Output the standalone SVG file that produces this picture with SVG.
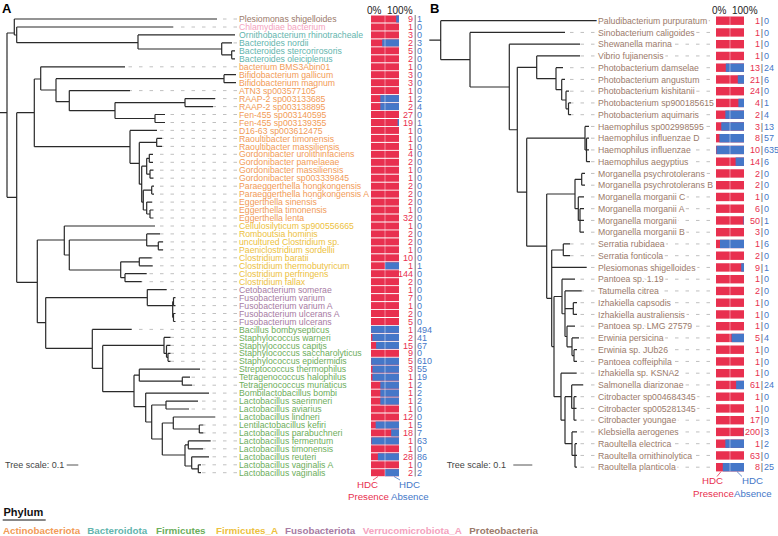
<svg xmlns="http://www.w3.org/2000/svg" xmlns:xlink="http://www.w3.org/1999/xlink" width="778" height="536" viewBox="0 0 778 536">
<style>
.t{stroke:#2a2a2a;stroke-width:1.2;fill:none}
.d{stroke:#b0b0b0;stroke-width:.8;stroke-dasharray:3.5 7;fill:none}
.l{font-family:"Liberation Sans",Arial,sans-serif;font-size:8.7px}
.h{stroke:#fff;stroke-width:4;paint-order:stroke fill;stroke-linejoin:round}
.pr{fill:#9B7A6A}.ve{fill:#F4A3BE}.bc{fill:#63B5AE}.ac{fill:#F29B57}.fa{fill:#EDC13E}.fu{fill:#A77BA3}.fi{fill:#6DAE5B}
.r{fill:#E8304F}.b{fill:#4577C8}
.n{font-family:"Liberation Sans",Arial,sans-serif;font-size:9px}
.nr{fill:#E8304F;text-anchor:end}.nb{fill:#4577C8}.ns{fill:#555;text-anchor:middle}
.k{font-family:"Liberation Sans",Arial,sans-serif;font-size:9.7px}
.p{font-family:"Liberation Sans",Arial,sans-serif;font-size:10px;fill:#222}
.lg{font-family:"Liberation Sans",Arial,sans-serif;font-size:9.8px;font-weight:bold}
.sc{font-family:"Liberation Sans",Arial,sans-serif;font-size:9px;fill:#444}
</style>
<defs>
<rect id="ra" class="r" x="371" y="-3.5" width="28" height="7"/>
<rect id="rb" class="r" x="716" y="-4.2" width="28" height="8.4"/>
</defs>
<rect width="778" height="536" fill="#fff"/>
<g id="connectors">
<path class="d" d="M237 19H217M237 27H173M237 42.9H232M237 66.8H125M237 90.6H130M237 98.6H215M237 106.6H213M237 114.5H165M237 122.5H165M237 130.4H157M237 138.4H162M237 146.4H162M237 154.3H153M237 162.3H153M237 170.2H153.5M237 178.2H153.5M237 186.2H154M237 194.1H154M237 202.1H152M237 210H153.5M237 218H153.5M237 226H155M237 233.9H160M237 241.9H163M237 249.8H163M237 257.8H151.7M237 265.8H152.7M237 273.7H146.7M237 281.7H141.7M237 289.6H166.7M237 297.6H175.5M237 305.6H175.5M237 313.5H175.5M237 321.5H175.5M237 329.4H131.7M237 337.4H170.5M237 345.4H170.5M237 353.3H170.5M237 361.3H170.5M237 369.2H200M237 377.2H190M237 385.2H192M237 393.1H209M237 401.1H198M237 409H189M237 417H215M237 425H203.3M237 432.9H203.3M237 440.9H210.7M237 448.8H203M237 456.8H209M237 464.8H201M237 472.7H201"/>
<path class="d" d="M710 20.7H597M710 32.45H565M710 44.2H580M710 55.95H580M710 67.7H563M710 79.45H565M710 91.2H569M710 102.95H571M710 114.7H571M710 126.45H589M710 138.2H589M710 149.95H589M710 161.7H590M710 173.45H585M710 185.2H585M710 196.95H584M710 208.7H584M710 220.45H584M710 232.2H584M710 243.95H570M710 255.7H570M710 267.45H586.7M710 279.2H575M710 290.95H581.7M710 302.7H577M710 314.45H577M710 326.2H575M710 337.95H579M710 349.7H577M710 361.45H577M710 373.2H576.7M710 384.95H583M710 396.7H576.5M710 408.45H576.5M710 420.2H576.5M710 431.95H577M710 443.7H577M710 455.45H577M710 467.2H577"/>
<path class="t" d="M0 112.7H7M7 33V197.3M7 33H14.3M14.3 19V35M14.3 19H217M14.3 35H16.7M16.7 27V42.7M16.7 27H173M16.7 42.7H138M138 34.9V49M138 34.9H235M138 49H221.7M221.7 42.9V54.8M221.7 42.9H232M221.7 54.8H231.7M231.7 50.8V58.8M231.7 50.8H235M231.7 58.8H235
M7 197.3H16.7M16.7 112.7V282.3M16.7 112.7H34.3M34.3 79V146.7M34.3 79H40.7M40.7 66.8V90M40.7 66.8H125M40.7 90H56M56 78.7V101.7M56 78.7H224M224 74.7V82.7M224 74.7H236M224 82.7H236M56 101.7H69.3M69.3 90.6V110.7M69.3 90.6H130M69.3 110.7H115M115 102.6V118.5M115 102.6H185M185 98.6V106.6M185 98.6H215M185 106.6H213M115 118.5H155M155 114.5V122.5M155 114.5H165M155 122.5H165
M34.3 146.7H130M130 130.4V163.3M130 130.4H157M130 163.3H139.3M139.3 142.4V184.2M139.3 142.4H156.7M156.7 138.4V146.4M156.7 138.4H162M156.7 146.4H162M139.3 184.2H141.7M141.7 166.2V202.2M141.7 166.2H146.7M146.7 158.3V174.2M146.7 158.3H149.3M149.3 154.3V162.3M149.3 154.3H153M149.3 162.3H153M146.7 174.2H150M150 170.2V178.2M150 170.2H153.5M150 178.2H153.5M141.7 202.2H143.3M143.3 190.2V210M143.3 190.2H151.7M151.7 186.2V194.1M151.7 186.2H154M151.7 194.1H154M143.3 210H146.7M146.7 202.1V214M146.7 202.1H152M146.7 214H150M150 210V218M150 210H153.5M150 218H153.5
M16.7 282.3H37.3M37.3 240V322.7M37.3 240H64.3M64.3 226V255M64.3 226H155M64.3 255H69.3M69.3 240V270M69.3 240H146.7M146.7 233.9V245.9M146.7 233.9H160M146.7 245.9H158.3M158.3 241.9V249.8M158.3 241.9H163M158.3 249.8H163M69.3 270H120.7M120.7 261.8V277.7M120.7 261.8H139.3M139.3 257.8V265.8M139.3 257.8H151.7M139.3 265.8H152.7M120.7 277.7H125M125 273.7V281.7M125 273.7H146.7M125 281.7H141.7
M37.3 322.7H45.7M45.7 297.6V348.3M45.7 297.6H147.3M147.3 289.6V305.6M147.3 289.6H166.7M147.3 305.6H172.7M172.7 301.6V317.5M172.7 301.6H173.5M173.5 297.6V305.6M173.5 297.6H175.5M173.5 305.6H175.5M172.7 317.5H173.5M173.5 313.5V321.5M173.5 313.5H175.5M173.5 321.5H175.5
M45.7 348.3H92.3M92.3 329.4V368.3M92.3 329.4H131.7M92.3 368.3H102.7M102.7 345.4V391.7M102.7 345.4H164M164 337.4V353.4M164 337.4H170.5M164 353.4H166.5M166.5 345.4V357.3M166.5 345.4H170.5M166.5 357.3H168M168 353.3V361.3M168 353.3H170.5M168 361.3H170.5
M102.7 391.7H134M134 375.2V406.7M134 375.2H139.3M139.3 369.2V381.2M139.3 369.2H200M139.3 381.2H182.3M182.3 377.2V385.2M182.3 377.2H190M182.3 385.2H192M134 406.7H145.7M145.7 393.1V422M145.7 393.1H209M145.7 422H151.7M151.7 405V439M151.7 405H166M166 401.1V409M166 401.1H198M166 409H189M151.7 439H162.3M162.3 423V455M162.3 423H173.3M173.3 417V429M173.3 417H215M173.3 429H199.3M199.3 425V432.9M199.3 425H203.3M199.3 432.9H203.3M162.3 455H185M185 444.9V466M185 444.9H188.3M188.3 440.9V448.8M188.3 440.9H210.7M188.3 448.8H203M185 466H191.7M191.7 456.8V468.8M191.7 456.8H209M191.7 468.8H198.3M198.3 464.8V472.7M198.3 464.8H201M198.3 472.7H201"/>
<path class="t" d="M429.3 40.2H440.7M440.7 20.7V59.7M440.7 20.7H597M440.7 59.7H470M470 32.45V87M470 32.45H565M470 87H509.3M509.3 44.2V129.75M509.3 44.2H580M509.3 129.75H517.3M517.3 67.3V192.2M517.3 67.3H536.7M517.3 192.2H526.7
M536.7 55.95V78.7M536.7 55.95H580M536.7 78.7H556M556 67.7V89.7M556 67.7H563M556 89.7H561.7M561.7 79.45V100M561.7 79.45H565M561.7 100H566M566 91.2V108.8M566 91.2H569M566 108.8H568.5M568.5 102.95V114.7M568.5 102.95H571M568.5 114.7H571
M526.7 138.2V246.15M526.7 138.2H585M526.7 246.15H546.7M585 126.45V150M585 126.45H589M585 150H586.5M586.5 138.2V161.7M586.5 138.2H589M586.5 149.95H589M586.5 161.7H590
M546.7 194V298.3M546.7 194H575M546.7 298.3H551.7M575 179.3V208.7M575 179.3H581.7M575 208.7H578.3M581.7 173.45V185.2M581.7 173.45H585M581.7 185.2H585M578.3 196.95V220.45M578.3 196.95H584M578.3 220.45H580M580 208.7V232.2M580 208.7H584M580 220.45H584M580 232.2H584
M551.7 250V346.6M551.7 250H563.3M551.7 267.45H586.7M551.7 346.6H554M563.3 243.95V255.7M563.3 243.95H570M563.3 255.7H570
M554 296.5V396.7M554 296.5H562M554 396.7H561M562 279.2V313.75M562 279.2H575M562 313.75H565M565 290.95V336.5M565 290.95H581.7M565 308.6H573.3M565 336.5H567M573.3 302.7V314.45M573.3 302.7H577M573.3 314.45H577M567 326.2V346.8M567 326.2H575M567 346.8H572M572 337.95V355.6M572 337.95H579M572 355.6H574M574 349.7V361.45M574 349.7H577M574 361.45H577
M561 373.2V420.2M561 373.2H576.7M561 420.2H565M565 396.7V443.7M565 396.7H571.7M565 443.7H572M571.7 384.95V408.45M571.7 384.95H583M571.7 408.45H574M574 396.7V420.2M574 396.7H576.5M574 408.45H576.5M574 420.2H576.5M572 431.95V455.45M572 431.95H577M572 455.45H575M575 443.7V467.2M575 443.7H577M575 455.45H577M575 467.2H577"/>
<path d="M415.2 15V476.5" stroke="#555" stroke-width=".8"/>
<path d="M373 480L378 476.5" stroke="#E8304F" stroke-width=".8"/>
<path d="M400 480L394 476.5" stroke="#4577C8" stroke-width=".8"/>
<path d="M717 476.5L721 471.6" stroke="#E8304F" stroke-width=".8"/>
<path d="M742 476.5L737 471.6" stroke="#4577C8" stroke-width=".8"/>
</g>
<g id="panelA">
<text x="2" y="12.7" font-family="Liberation Sans, Arial, sans-serif" font-size="13" font-weight="bold">A</text>
<text class="p" x="367" y="14">0%</text><text class="p" x="387" y="14">100%</text>
<g id="a1" transform="translate(0 19)"><text class="l pr" x="239" y="3.1">Plesiomonas shigelloides</text><use href="#ra"/><rect class="b" x="396.2" y="-3.5" width="2.8" height="7"/><text class="n nr" x="413" y="3.1">9</text><text class="n nb" x="417" y="3.1">1</text></g>
<g id="a2" transform="translate(0 27)"><text class="l ve" x="239" y="3.1">Chlamydiae bacterium</text><use href="#ra"/><text class="n nr" x="413" y="3.1">1</text><text class="n nb" x="417" y="3.1">0</text></g>
<g id="a3" transform="translate(0 34.9)"><text class="l bc" x="239" y="3.1">Ornithobacterium rhinotracheale</text><use href="#ra"/><text class="n nr" x="413" y="3.1">3</text><text class="n nb" x="417" y="3.1">0</text></g>
<g id="a4" transform="translate(0 42.9)"><text class="l bc" x="239" y="3.1">Bacteroides nordii</text><use href="#ra"/><rect class="b" x="382.2" y="-3.5" width="16.8" height="7"/><text class="n nr" x="413" y="3.1">2</text><text class="n nb" x="417" y="3.1">3</text></g>
<g id="a5" transform="translate(0 50.8)"><text class="l bc" x="239" y="3.1">Bacteroides stercorirosoris</text><use href="#ra"/><text class="n nr" x="413" y="3.1">5</text><text class="n nb" x="417" y="3.1">0</text></g>
<g id="a6" transform="translate(0 58.8)"><text class="l bc" x="239" y="3.1">Bacteroides oleiciplenus</text><use href="#ra"/><text class="n nr" x="413" y="3.1">2</text><text class="n nb" x="417" y="3.1">0</text></g>
<g id="a7" transform="translate(0 66.8)"><text class="l ac" x="239" y="3.1">bacterium BMS3Abin01</text><use href="#ra"/><text class="n nr" x="413" y="3.1">1</text><text class="n nb" x="417" y="3.1">0</text></g>
<g id="a8" transform="translate(0 74.7)"><text class="l ac" x="239" y="3.1">Bifidobacterium gallicum</text><use href="#ra"/><text class="n nr" x="413" y="3.1">3</text><text class="n nb" x="417" y="3.1">0</text></g>
<g id="a9" transform="translate(0 82.7)"><text class="l ac" x="239" y="3.1">Bifidobacterium magnum</text><use href="#ra"/><text class="n nr" x="413" y="3.1">3</text><text class="n nb" x="417" y="3.1">0</text></g>
<g id="a10" transform="translate(0 90.6)"><text class="l ac" x="239" y="3.1">ATN3 sp003577105</text><use href="#ra"/><text class="n nr" x="413" y="3.1">1</text><text class="n nb" x="417" y="3.1">0</text></g>
<g id="a11" transform="translate(0 98.6)"><text class="l ac" x="239" y="3.1">RAAP-2 sp003133685</text><use href="#ra"/><rect class="b" x="380.33" y="-3.5" width="18.67" height="7"/><text class="n nr" x="413" y="3.1">1</text><text class="n nb" x="417" y="3.1">2</text></g>
<g id="a12" transform="translate(0 106.6)"><text class="l ac" x="239" y="3.1">RAAP-2 sp003138895</text><use href="#ra"/><rect class="b" x="380.33" y="-3.5" width="18.67" height="7"/><text class="n nr" x="413" y="3.1">2</text><text class="n nb" x="417" y="3.1">4</text></g>
<g id="a13" transform="translate(0 114.5)"><text class="l ac" x="239" y="3.1">Fen-455 sp003140595</text><use href="#ra"/><text class="n nr" x="413" y="3.1">27</text><text class="n nb" x="417" y="3.1">0</text></g>
<g id="a14" transform="translate(0 122.5)"><text class="l ac" x="239" y="3.1">Fen-455 sp003139355</text><use href="#ra"/><rect class="b" x="397.6" y="-3.5" width="1.4" height="7"/><text class="n nr" x="413" y="3.1">19</text><text class="n nb" x="417" y="3.1">1</text></g>
<g id="a15" transform="translate(0 130.4)"><text class="l ac" x="239" y="3.1">D16-63 sp003612475</text><use href="#ra"/><text class="n nr" x="413" y="3.1">1</text><text class="n nb" x="417" y="3.1">0</text></g>
<g id="a16" transform="translate(0 138.4)"><text class="l ac" x="239" y="3.1">Raoultibacter timonensis</text><use href="#ra"/><text class="n nr" x="413" y="3.1">1</text><text class="n nb" x="417" y="3.1">0</text></g>
<g id="a17" transform="translate(0 146.4)"><text class="l ac" x="239" y="3.1">Raoultibacter massiliensis</text><use href="#ra"/><text class="n nr" x="413" y="3.1">1</text><text class="n nb" x="417" y="3.1">0</text></g>
<g id="a18" transform="translate(0 154.3)"><text class="l ac" x="239" y="3.1">Gordonibacter urolithinfaciens</text><use href="#ra"/><text class="n nr" x="413" y="3.1">4</text><text class="n nb" x="417" y="3.1">0</text></g>
<g id="a19" transform="translate(0 162.3)"><text class="l ac" x="239" y="3.1">Gordonibacter pamelaeae</text><use href="#ra"/><text class="n nr" x="413" y="3.1">2</text><text class="n nb" x="417" y="3.1">0</text></g>
<g id="a20" transform="translate(0 170.2)"><text class="l ac" x="239" y="3.1">Gordonibacter massiliensis</text><use href="#ra"/><text class="n nr" x="413" y="3.1">1</text><text class="n nb" x="417" y="3.1">0</text></g>
<g id="a21" transform="translate(0 178.2)"><text class="l ac" x="239" y="3.1">Gordonibacter sp003339845</text><use href="#ra"/><text class="n nr" x="413" y="3.1">1</text><text class="n nb" x="417" y="3.1">0</text></g>
<g id="a22" transform="translate(0 186.2)"><text class="l ac" x="239" y="3.1">Paraeggerthella hongkongensis</text><use href="#ra"/><text class="n nr" x="413" y="3.1">2</text><text class="n nb" x="417" y="3.1">0</text></g>
<g id="a23" transform="translate(0 194.1)"><text class="l ac" x="239" y="3.1">Paraeggerthella hongkongensis A</text><use href="#ra"/><text class="n nr" x="413" y="3.1">2</text><text class="n nb" x="417" y="3.1">0</text></g>
<g id="a24" transform="translate(0 202.1)"><text class="l ac" x="239" y="3.1">Eggerthella sinensis</text><use href="#ra"/><text class="n nr" x="413" y="3.1">2</text><text class="n nb" x="417" y="3.1">0</text></g>
<g id="a25" transform="translate(0 210)"><text class="l ac" x="239" y="3.1">Eggerthella timonensis</text><use href="#ra"/><text class="n nr" x="413" y="3.1">1</text><text class="n nb" x="417" y="3.1">0</text></g>
<g id="a26" transform="translate(0 218)"><text class="l ac" x="239" y="3.1">Eggerthella lenta</text><use href="#ra"/><text class="n nr" x="413" y="3.1">32</text><text class="n nb" x="417" y="3.1">0</text></g>
<g id="a27" transform="translate(0 226)"><text class="l fa" x="239" y="3.1">Cellulosilyticum sp900556665</text><use href="#ra"/><text class="n nr" x="413" y="3.1">1</text><text class="n nb" x="417" y="3.1">0</text></g>
<g id="a28" transform="translate(0 233.9)"><text class="l fa" x="239" y="3.1">Romboutsia hominis</text><use href="#ra"/><text class="n nr" x="413" y="3.1">2</text><text class="n nb" x="417" y="3.1">0</text></g>
<g id="a29" transform="translate(0 241.9)"><text class="l fa" x="239" y="3.1">uncultured Clostridium sp.</text><use href="#ra"/><text class="n nr" x="413" y="3.1">2</text><text class="n nb" x="417" y="3.1">0</text></g>
<g id="a30" transform="translate(0 249.8)"><text class="l fa" x="239" y="3.1">Paeniclostridium sordellii</text><use href="#ra"/><text class="n nr" x="413" y="3.1">1</text><text class="n nb" x="417" y="3.1">0</text></g>
<g id="a31" transform="translate(0 257.8)"><text class="l fa" x="239" y="3.1">Clostridium baratii</text><use href="#ra"/><text class="n nr" x="413" y="3.1">10</text><text class="n nb" x="417" y="3.1">0</text></g>
<g id="a32" transform="translate(0 265.8)"><text class="l fa" x="239" y="3.1">Clostridium thermobutyricum</text><use href="#ra"/><rect class="b" x="385" y="-3.5" width="14" height="7"/><text class="n nr" x="413" y="3.1">1</text><text class="n nb" x="417" y="3.1">1</text></g>
<g id="a33" transform="translate(0 273.7)"><text class="l fa" x="239" y="3.1">Clostridium perfringens</text><use href="#ra"/><text class="n nr" x="413" y="3.1">144</text><text class="n nb" x="417" y="3.1">0</text></g>
<g id="a34" transform="translate(0 281.7)"><text class="l fa" x="239" y="3.1">Clostridium fallax</text><use href="#ra"/><text class="n nr" x="413" y="3.1">2</text><text class="n nb" x="417" y="3.1">0</text></g>
<g id="a35" transform="translate(0 289.6)"><text class="l fu" x="239" y="3.1">Cetobacterium somerae</text><use href="#ra"/><text class="n nr" x="413" y="3.1">1</text><text class="n nb" x="417" y="3.1">0</text></g>
<g id="a36" transform="translate(0 297.6)"><text class="l fu" x="239" y="3.1">Fusobacterium varium</text><use href="#ra"/><text class="n nr" x="413" y="3.1">7</text><text class="n nb" x="417" y="3.1">0</text></g>
<g id="a37" transform="translate(0 305.6)"><text class="l fu" x="239" y="3.1">Fusobacterium varium A</text><use href="#ra"/><text class="n nr" x="413" y="3.1">1</text><text class="n nb" x="417" y="3.1">0</text></g>
<g id="a38" transform="translate(0 313.5)"><text class="l fu" x="239" y="3.1">Fusobacterium ulcerans A</text><use href="#ra"/><text class="n nr" x="413" y="3.1">2</text><text class="n nb" x="417" y="3.1">0</text></g>
<g id="a39" transform="translate(0 321.5)"><text class="l fu" x="239" y="3.1">Fusobacterium ulcerans</text><use href="#ra"/><text class="n nr" x="413" y="3.1">5</text><text class="n nb" x="417" y="3.1">0</text></g>
<g id="a40" transform="translate(0 329.4)"><text class="l fi" x="239" y="3.1">Bacillus bombysepticus</text><use href="#ra"/><rect class="b" x="371.1" y="-3.5" width="27.9" height="7"/><text class="n nr" x="413" y="3.1">1</text><text class="n nb" x="417" y="3.1">494</text></g>
<g id="a41" transform="translate(0 337.4)"><text class="l fi" x="239" y="3.1">Staphylococcus warneri</text><use href="#ra"/><rect class="b" x="372.3" y="-3.5" width="26.7" height="7"/><text class="n nr" x="413" y="3.1">2</text><text class="n nb" x="417" y="3.1">41</text></g>
<g id="a42" transform="translate(0 345.4)"><text class="l fi" x="239" y="3.1">Staphylococcus capitis</text><use href="#ra"/><rect class="b" x="376.1" y="-3.5" width="22.9" height="7"/><text class="n nr" x="413" y="3.1">15</text><text class="n nb" x="417" y="3.1">67</text></g>
<g id="a43" transform="translate(0 353.3)"><text class="l fi" x="239" y="3.1">Staphylococcus saccharolyticus</text><use href="#ra"/><text class="n nr" x="413" y="3.1">9</text><text class="n nb" x="417" y="3.1">0</text></g>
<g id="a44" transform="translate(0 361.3)"><text class="l fi" x="239" y="3.1">Staphylococcus epidermidis</text><use href="#ra"/><rect class="b" x="371.2" y="-3.5" width="27.8" height="7"/><text class="n nr" x="413" y="3.1">5</text><text class="n nb" x="417" y="3.1">610</text></g>
<g id="a45" transform="translate(0 369.2)"><text class="l fi" x="239" y="3.1">Streptococcus thermophilus</text><use href="#ra"/><rect class="b" x="372.45" y="-3.5" width="26.55" height="7"/><text class="n nr" x="413" y="3.1">3</text><text class="n nb" x="417" y="3.1">55</text></g>
<g id="a46" transform="translate(0 377.2)"><text class="l fi" x="239" y="3.1">Tetragenococcus halophilus</text><use href="#ra"/><rect class="b" x="372.4" y="-3.5" width="26.6" height="7"/><text class="n nr" x="413" y="3.1">1</text><text class="n nb" x="417" y="3.1">19</text></g>
<g id="a47" transform="translate(0 385.2)"><text class="l fi" x="239" y="3.1">Tetragenococcus muriaticus</text><use href="#ra"/><rect class="b" x="380.33" y="-3.5" width="18.67" height="7"/><text class="n nr" x="413" y="3.1">1</text><text class="n nb" x="417" y="3.1">2</text></g>
<g id="a48" transform="translate(0 393.1)"><text class="l fi" x="239" y="3.1">Bombilactobacillus bombi</text><use href="#ra"/><rect class="b" x="380.33" y="-3.5" width="18.67" height="7"/><text class="n nr" x="413" y="3.1">1</text><text class="n nb" x="417" y="3.1">2</text></g>
<g id="a49" transform="translate(0 401.1)"><text class="l fi" x="239" y="3.1">Lactobacillus saerimneri</text><use href="#ra"/><rect class="b" x="380.33" y="-3.5" width="18.67" height="7"/><text class="n nr" x="413" y="3.1">1</text><text class="n nb" x="417" y="3.1">2</text></g>
<g id="a50" transform="translate(0 409)"><text class="l fi" x="239" y="3.1">Lactobacillus aviarius</text><use href="#ra"/><text class="n nr" x="413" y="3.1">1</text><text class="n nb" x="417" y="3.1">0</text></g>
<g id="a51" transform="translate(0 417)"><text class="l fi" x="239" y="3.1">Lactobacillus lindneri</text><use href="#ra"/><text class="n nr" x="413" y="3.1">12</text><text class="n nb" x="417" y="3.1">0</text></g>
<g id="a52" transform="translate(0 425)"><text class="l fi" x="239" y="3.1">Lentilactobacillus kefiri</text><use href="#ra"/><rect class="b" x="375.67" y="-3.5" width="23.33" height="7"/><text class="n nr" x="413" y="3.1">1</text><text class="n nb" x="417" y="3.1">5</text></g>
<g id="a53" transform="translate(0 432.9)"><text class="l fi" x="239" y="3.1">Lactobacillus parabuchneri</text><use href="#ra"/><rect class="b" x="391.16" y="-3.5" width="7.84" height="7"/><text class="n nr" x="413" y="3.1">18</text><text class="n nb" x="417" y="3.1">7</text></g>
<g id="a54" transform="translate(0 440.9)"><text class="l fi" x="239" y="3.1">Lactobacillus fermentum</text><use href="#ra"/><rect class="b" x="371.44" y="-3.5" width="27.56" height="7"/><text class="n nr" x="413" y="3.1">1</text><text class="n nb" x="417" y="3.1">63</text></g>
<g id="a55" transform="translate(0 448.8)"><text class="l fi" x="239" y="3.1">Lactobacillus timonensis</text><use href="#ra"/><text class="n nr" x="413" y="3.1">1</text><text class="n nb" x="417" y="3.1">0</text></g>
<g id="a56" transform="translate(0 456.8)"><text class="l fi" x="239" y="3.1">Lactobacillus reuteri</text><use href="#ra"/><rect class="b" x="377.9" y="-3.5" width="21.1" height="7"/><text class="n nr" x="413" y="3.1">28</text><text class="n nb" x="417" y="3.1">86</text></g>
<g id="a57" transform="translate(0 464.8)"><text class="l fi" x="239" y="3.1">Lactobacillus vaginalis A</text><use href="#ra"/><text class="n nr" x="413" y="3.1">1</text><text class="n nb" x="417" y="3.1">0</text></g>
<g id="a58" transform="translate(0 472.7)"><text class="l fi" x="239" y="3.1">Lactobacillus vaginalis</text><use href="#ra"/><rect class="b" x="385" y="-3.5" width="14" height="7"/><text class="n nr" x="413" y="3.1">2</text><text class="n nb" x="417" y="3.1">2</text></g>
<path d="M385 15.5V476.2" stroke="#fff" stroke-opacity=".55" stroke-width=".8"/>
<text class="k r" x="357" y="487.8">HDC</text><text class="k b" x="399" y="487.8">HDC</text>
<text class="k r" x="348" y="499.5">Presence</text><text class="k b" x="391" y="499.5">Absence</text>
<text class="sc" x="5" y="468">Tree scale: 0.1</text>
<path d="M66.7 465H78.3" stroke="#555" stroke-width="1"/>
</g>
<g id="panelB">
<text x="430" y="12.7" font-family="Liberation Sans, Arial, sans-serif" font-size="13" font-weight="bold">B</text>
<text class="p" x="712" y="14">0%</text><text class="p" x="732" y="14">100%</text>
<g id="b1" transform="translate(0 20.7)"><text class="l pr h" x="598" y="3.1">Paludibacterium purpuratum</text><use href="#rb"/><text class="n nr" x="760" y="3.1">1</text><text class="n ns" x="762" y="3.1">|</text><text class="n nb" x="764" y="3.1">0</text></g>
<g id="b2" transform="translate(0 32.45)"><text class="l pr h" x="598" y="3.1">Sinobacterium caligoides</text><use href="#rb"/><text class="n nr" x="760" y="3.1">1</text><text class="n ns" x="762" y="3.1">|</text><text class="n nb" x="764" y="3.1">0</text></g>
<g id="b3" transform="translate(0 44.2)"><text class="l pr h" x="598" y="3.1">Shewanella marina</text><use href="#rb"/><text class="n nr" x="760" y="3.1">1</text><text class="n ns" x="762" y="3.1">|</text><text class="n nb" x="764" y="3.1">0</text></g>
<g id="b4" transform="translate(0 55.95)"><text class="l pr h" x="598" y="3.1">Vibrio fujianensis</text><use href="#rb"/><text class="n nr" x="760" y="3.1">1</text><text class="n ns" x="762" y="3.1">|</text><text class="n nb" x="764" y="3.1">0</text></g>
<g id="b5" transform="translate(0 67.7)"><text class="l pr h" x="598" y="3.1">Photobacterium damselae</text><use href="#rb"/><rect class="b" x="725.8" y="-4.2" width="18.2" height="8.4"/><text class="n nr" x="760" y="3.1">13</text><text class="n ns" x="762" y="3.1">|</text><text class="n nb" x="764" y="3.1">24</text></g>
<g id="b6" transform="translate(0 79.45)"><text class="l pr h" x="598" y="3.1">Photobacterium angustum</text><use href="#rb"/><rect class="b" x="737.8" y="-4.2" width="6.2" height="8.4"/><text class="n nr" x="760" y="3.1">21</text><text class="n ns" x="762" y="3.1">|</text><text class="n nb" x="764" y="3.1">6</text></g>
<g id="b7" transform="translate(0 91.2)"><text class="l pr h" x="598" y="3.1">Photobacterium kishitanii</text><use href="#rb"/><text class="n nr" x="760" y="3.1">24</text><text class="n ns" x="762" y="3.1">|</text><text class="n nb" x="764" y="3.1">0</text></g>
<g id="b8" transform="translate(0 102.95)"><text class="l pr h" x="598" y="3.1">Photobacterium sp900185615</text><use href="#rb"/><rect class="b" x="738.4" y="-4.2" width="5.6" height="8.4"/><text class="n nr" x="760" y="3.1">4</text><text class="n ns" x="762" y="3.1">|</text><text class="n nb" x="764" y="3.1">1</text></g>
<g id="b9" transform="translate(0 114.7)"><text class="l pr h" x="598" y="3.1">Photobacterium aquimaris</text><use href="#rb"/><rect class="b" x="725.33" y="-4.2" width="18.67" height="8.4"/><text class="n nr" x="760" y="3.1">2</text><text class="n ns" x="762" y="3.1">|</text><text class="n nb" x="764" y="3.1">4</text></g>
<g id="b10" transform="translate(0 126.45)"><text class="l pr h" x="598" y="3.1">Haemophilus sp002998595</text><use href="#rb"/><rect class="b" x="721.25" y="-4.2" width="22.75" height="8.4"/><text class="n nr" x="760" y="3.1">3</text><text class="n ns" x="762" y="3.1">|</text><text class="n nb" x="764" y="3.1">13</text></g>
<g id="b11" transform="translate(0 138.2)"><text class="l pr h" x="598" y="3.1">Haemophilus influenzae D</text><use href="#rb"/><rect class="b" x="719.45" y="-4.2" width="24.55" height="8.4"/><text class="n nr" x="760" y="3.1">8</text><text class="n ns" x="762" y="3.1">|</text><text class="n nb" x="764" y="3.1">57</text></g>
<g id="b12" transform="translate(0 149.95)"><text class="l pr h" x="598" y="3.1">Haemophilus influenzae</text><use href="#rb"/><rect class="b" x="716.43" y="-4.2" width="27.57" height="8.4"/><text class="n nr" x="760" y="3.1">10</text><text class="n ns" x="762" y="3.1">|</text><text class="n nb" x="764" y="3.1">635</text></g>
<g id="b13" transform="translate(0 161.7)"><text class="l pr h" x="598" y="3.1">Haemophilus aegyptius</text><use href="#rb"/><rect class="b" x="735.6" y="-4.2" width="8.4" height="8.4"/><text class="n nr" x="760" y="3.1">14</text><text class="n ns" x="762" y="3.1">|</text><text class="n nb" x="764" y="3.1">6</text></g>
<g id="b14" transform="translate(0 173.45)"><text class="l pr h" x="598" y="3.1">Morganella psychrotolerans</text><use href="#rb"/><text class="n nr" x="760" y="3.1">2</text><text class="n ns" x="762" y="3.1">|</text><text class="n nb" x="764" y="3.1">0</text></g>
<g id="b15" transform="translate(0 185.2)"><text class="l pr h" x="598" y="3.1">Morganella psychrotolerans B</text><use href="#rb"/><text class="n nr" x="760" y="3.1">2</text><text class="n ns" x="762" y="3.1">|</text><text class="n nb" x="764" y="3.1">0</text></g>
<g id="b16" transform="translate(0 196.95)"><text class="l pr h" x="598" y="3.1">Morganella morganii C</text><use href="#rb"/><text class="n nr" x="760" y="3.1">1</text><text class="n ns" x="762" y="3.1">|</text><text class="n nb" x="764" y="3.1">0</text></g>
<g id="b17" transform="translate(0 208.7)"><text class="l pr h" x="598" y="3.1">Morganella morganii A</text><use href="#rb"/><text class="n nr" x="760" y="3.1">6</text><text class="n ns" x="762" y="3.1">|</text><text class="n nb" x="764" y="3.1">0</text></g>
<g id="b18" transform="translate(0 220.45)"><text class="l pr h" x="598" y="3.1">Morganella morganii</text><use href="#rb"/><rect class="b" x="743.45" y="-4.2" width="0.55" height="8.4"/><text class="n nr" x="760" y="3.1">50</text><text class="n ns" x="762" y="3.1">|</text><text class="n nb" x="764" y="3.1">1</text></g>
<g id="b19" transform="translate(0 232.2)"><text class="l pr h" x="598" y="3.1">Morganella morganii B</text><use href="#rb"/><text class="n nr" x="760" y="3.1">3</text><text class="n ns" x="762" y="3.1">|</text><text class="n nb" x="764" y="3.1">0</text></g>
<g id="b20" transform="translate(0 243.95)"><text class="l pr h" x="598" y="3.1">Serratia rubidaea</text><use href="#rb"/><rect class="b" x="720" y="-4.2" width="24" height="8.4"/><text class="n nr" x="760" y="3.1">1</text><text class="n ns" x="762" y="3.1">|</text><text class="n nb" x="764" y="3.1">6</text></g>
<g id="b21" transform="translate(0 255.7)"><text class="l pr h" x="598" y="3.1">Serratia fonticola</text><use href="#rb"/><text class="n nr" x="760" y="3.1">2</text><text class="n ns" x="762" y="3.1">|</text><text class="n nb" x="764" y="3.1">0</text></g>
<g id="b22" transform="translate(0 267.45)"><text class="l pr h" x="598" y="3.1">Plesiomonas shigelloides</text><use href="#rb"/><rect class="b" x="741.2" y="-4.2" width="2.8" height="8.4"/><text class="n nr" x="760" y="3.1">9</text><text class="n ns" x="762" y="3.1">|</text><text class="n nb" x="764" y="3.1">1</text></g>
<g id="b23" transform="translate(0 279.2)"><text class="l pr h" x="598" y="3.1">Pantoea sp. 1.19</text><use href="#rb"/><text class="n nr" x="760" y="3.1">1</text><text class="n ns" x="762" y="3.1">|</text><text class="n nb" x="764" y="3.1">0</text></g>
<g id="b24" transform="translate(0 290.95)"><text class="l pr h" x="598" y="3.1">Tatumella citrea</text><use href="#rb"/><text class="n nr" x="760" y="3.1">2</text><text class="n ns" x="762" y="3.1">|</text><text class="n nb" x="764" y="3.1">0</text></g>
<g id="b25" transform="translate(0 302.7)"><text class="l pr h" x="598" y="3.1">Izhakiella capsodis</text><use href="#rb"/><text class="n nr" x="760" y="3.1">1</text><text class="n ns" x="762" y="3.1">|</text><text class="n nb" x="764" y="3.1">0</text></g>
<g id="b26" transform="translate(0 314.45)"><text class="l pr h" x="598" y="3.1">Izhakiella australiensis</text><use href="#rb"/><text class="n nr" x="760" y="3.1">1</text><text class="n ns" x="762" y="3.1">|</text><text class="n nb" x="764" y="3.1">0</text></g>
<g id="b27" transform="translate(0 326.2)"><text class="l pr h" x="598" y="3.1">Pantoea sp. LMG 27579</text><use href="#rb"/><text class="n nr" x="760" y="3.1">1</text><text class="n ns" x="762" y="3.1">|</text><text class="n nb" x="764" y="3.1">0</text></g>
<g id="b28" transform="translate(0 337.95)"><text class="l pr h" x="598" y="3.1">Erwinia persicina</text><use href="#rb"/><rect class="b" x="731.6" y="-4.2" width="12.4" height="8.4"/><text class="n nr" x="760" y="3.1">5</text><text class="n ns" x="762" y="3.1">|</text><text class="n nb" x="764" y="3.1">4</text></g>
<g id="b29" transform="translate(0 349.7)"><text class="l pr h" x="598" y="3.1">Erwinia sp. JUb26</text><use href="#rb"/><text class="n nr" x="760" y="3.1">1</text><text class="n ns" x="762" y="3.1">|</text><text class="n nb" x="764" y="3.1">0</text></g>
<g id="b30" transform="translate(0 361.45)"><text class="l pr h" x="598" y="3.1">Pantoea coffeiphila</text><use href="#rb"/><text class="n nr" x="760" y="3.1">1</text><text class="n ns" x="762" y="3.1">|</text><text class="n nb" x="764" y="3.1">0</text></g>
<g id="b31" transform="translate(0 373.2)"><text class="l pr h" x="598" y="3.1">Izhakiella sp. KSNA2</text><use href="#rb"/><text class="n nr" x="760" y="3.1">1</text><text class="n ns" x="762" y="3.1">|</text><text class="n nb" x="764" y="3.1">0</text></g>
<g id="b32" transform="translate(0 384.95)"><text class="l pr h" x="598" y="3.1">Salmonella diarizonae</text><use href="#rb"/><rect class="b" x="736.1" y="-4.2" width="7.9" height="8.4"/><text class="n nr" x="760" y="3.1">61</text><text class="n ns" x="762" y="3.1">|</text><text class="n nb" x="764" y="3.1">24</text></g>
<g id="b33" transform="translate(0 396.7)"><text class="l pr h" x="598" y="3.1">Citrobacter sp004684345</text><use href="#rb"/><text class="n nr" x="760" y="3.1">1</text><text class="n ns" x="762" y="3.1">|</text><text class="n nb" x="764" y="3.1">0</text></g>
<g id="b34" transform="translate(0 408.45)"><text class="l pr h" x="598" y="3.1">Citrobacter sp005281345</text><use href="#rb"/><text class="n nr" x="760" y="3.1">1</text><text class="n ns" x="762" y="3.1">|</text><text class="n nb" x="764" y="3.1">0</text></g>
<g id="b35" transform="translate(0 420.2)"><text class="l pr h" x="598" y="3.1">Citrobacter youngae</text><use href="#rb"/><text class="n nr" x="760" y="3.1">17</text><text class="n ns" x="762" y="3.1">|</text><text class="n nb" x="764" y="3.1">0</text></g>
<g id="b36" transform="translate(0 431.95)"><text class="l pr h" x="598" y="3.1">Klebsiella aerogenes</text><use href="#rb"/><rect class="b" x="743.6" y="-4.2" width="0.4" height="8.4"/><text class="n nr" x="760" y="3.1">200</text><text class="n ns" x="762" y="3.1">|</text><text class="n nb" x="764" y="3.1">3</text></g>
<g id="b37" transform="translate(0 443.7)"><text class="l pr h" x="598" y="3.1">Raoultella electrica</text><use href="#rb"/><rect class="b" x="725.33" y="-4.2" width="18.67" height="8.4"/><text class="n nr" x="760" y="3.1">1</text><text class="n ns" x="762" y="3.1">|</text><text class="n nb" x="764" y="3.1">2</text></g>
<g id="b38" transform="translate(0 455.45)"><text class="l pr h" x="598" y="3.1">Raoultella ornithinolytica</text><use href="#rb"/><text class="n nr" x="760" y="3.1">63</text><text class="n ns" x="762" y="3.1">|</text><text class="n nb" x="764" y="3.1">0</text></g>
<g id="b39" transform="translate(0 467.2)"><text class="l pr h" x="598" y="3.1">Raoultella planticola</text><use href="#rb"/><rect class="b" x="722.8" y="-4.2" width="21.2" height="8.4"/><text class="n nr" x="760" y="3.1">8</text><text class="n ns" x="762" y="3.1">|</text><text class="n nb" x="764" y="3.1">25</text></g>
<path d="M730 16.5V471.4" stroke="#fff" stroke-opacity=".55" stroke-width=".8"/>
<text class="k r" x="702" y="483.5">HDC</text><text class="k b" x="742" y="483.5">HDC</text>
<text class="k r" x="693" y="496.8">Presence</text><text class="k b" x="734" y="496.8">Absence</text>
<text class="sc" x="446.7" y="468">Tree scale: 0.1</text>
<path d="M513.3 465H532.3" stroke="#555" stroke-width="1"/>
</g>
<g id="legend" class="lg">
<text x="3.5" y="516" font-family="Liberation Sans, Arial, sans-serif" font-size="11" font-weight="bold" fill="#111">Phylum</text>
<path d="M2.7 520H45.7" stroke="#111" stroke-width="1"/>
<text class="ac" x="3" y="534">Actinobacteriota</text>
<text class="bc" x="87.3" y="534">Bacteroidota</text>
<text class="fi" x="156" y="534">Firmicutes</text>
<text class="fa" x="216" y="534">Firmicutes_A</text>
<text class="fu" x="285" y="534">Fusobacteriota</text>
<text class="ve" x="362.7" y="534">Verrucomicrobiota_A</text>
<text class="pr" x="469.3" y="534">Proteobacteria</text>
</g>
</svg>
